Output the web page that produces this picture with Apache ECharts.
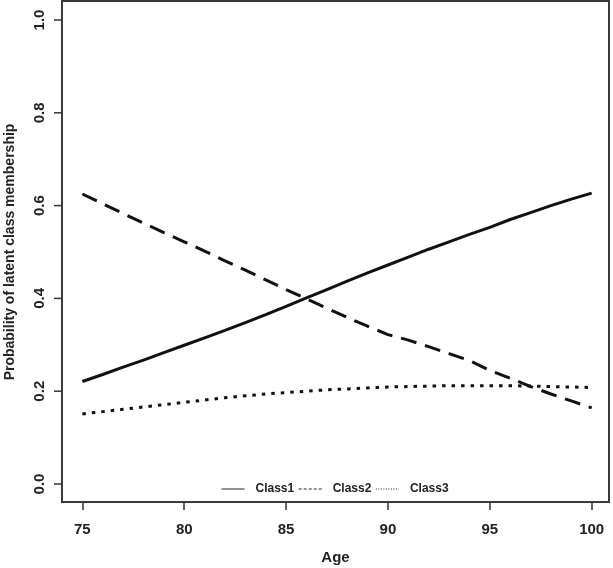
<!DOCTYPE html>
<html>
<head>
<meta charset="utf-8">
<script src="https://cdn.jsdelivr.net/npm/echarts@6/dist/echarts.min.js"></script>
<style>html,body{margin:0;padding:0;background:#fff}#c{width:613px;height:568px}</style>
</head>
<body>
<div id="c"></div>
<script>
const ages = [75,76,77,78,79,80,81,82,83,84,85,86,87,88,89,90,91,92,93,94,95,96,97,98,99,100];
const class1 = [0.221,0.236,0.252,0.267,0.283,0.299,0.315,0.331,0.348,0.365,0.383,0.401,0.419,0.437,0.455,0.472,0.489,0.506,0.522,0.538,0.553,0.570,0.585,0.600,0.614,0.627];
const class2 = [0.625,0.604,0.583,0.562,0.542,0.522,0.502,0.481,0.461,0.440,0.419,0.399,0.379,0.359,0.340,0.322,0.310,0.296,0.281,0.266,0.245,0.228,0.210,0.194,0.179,0.164];
const class3 = [0.151,0.156,0.161,0.166,0.171,0.176,0.181,0.186,0.190,0.194,0.197,0.200,0.203,0.205,0.207,0.209,0.210,0.211,0.212,0.212,0.212,0.212,0.211,0.210,0.209,0.208];
const xTicks = [75,80,85,90,95,100];
const yTicks = [0,0.2,0.4,0.6,0.8,1.0];
const xMin = 74, xMax = 100.85;
const yMin = 0, yMax = 1, yStep = 0.2;
const seriesNames = ['Class1','Class2','Class3'];

const pair = arr => ages.map((a,i)=>[a,arr[i]]);
const font = 'Liberation Sans, Arial, sans-serif';
const chart = echarts.init(document.getElementById('c'), null, {renderer:'canvas'});
chart.setOption({
  animation:false,
  backgroundColor:'#fff',
  grid:[
    {left:62,right:4,top:20,bottom:84,containLabel:false,outerBoundsMode:'none',show:false},
    {left:62,right:4,top:1,bottom:66,containLabel:false,outerBoundsMode:'none',show:true,borderColor:'#3a3a3a',borderWidth:2,backgroundColor:'transparent'}
  ],
  xAxis:[
    {gridIndex:0,type:'value',min:xMin,max:xMax,show:false},
    {gridIndex:1,type:'value',min:xMin,max:xMax,
      name:'Age',nameLocation:'middle',nameGap:48,
      nameTextStyle:{fontFamily:font,fontSize:15,fontWeight:'bold',color:'#222'},
      axisLine:{show:true,onZero:false,lineStyle:{color:'#3a3a3a',width:2}},
      axisTick:{show:true,inside:false,length:8,customValues:xTicks.slice(),lineStyle:{color:'#333',width:1.5}},
      axisLabel:{customValues:xTicks.slice(),margin:20,fontFamily:font,fontSize:15,fontWeight:'bold',color:'#222'},
      splitLine:{show:false}}
  ],
  yAxis:[
    {gridIndex:0,type:'value',min:yMin,max:yMax,interval:yStep,position:'left',
      name:'Probability of latent class membership',nameLocation:'middle',nameGap:45,
      nameTextStyle:{fontFamily:font,fontSize:14,fontWeight:'bold',color:'#222'},
      axisLine:{show:false,onZero:false},
      axisTick:{show:false},
      axisLabel:{rotate:90,margin:15,formatter:v=>Number(v).toFixed(1),fontFamily:font,fontSize:15,fontWeight:'bold',color:'#222'},
      splitLine:{show:false}},
    {gridIndex:1,type:'value',min:-0.04,max:1.04,show:false}
  ],
  legend:{left:216,top:478,itemWidth:23,itemHeight:14,itemGap:4,
    itemStyle:{opacity:0},
    textStyle:{fontFamily:font,fontSize:12,fontWeight:'bold',color:'#222',padding:[0,0,0,6]},
    data:[
      {name:'Class1',lineStyle:{width:1,type:'solid',color:'#222'}},
      {name:'Class2',lineStyle:{width:1,type:[3,2],color:'#222'}},
      {name:'Class3',lineStyle:{width:1,type:[1,1.5],color:'#222'}}
    ]},
  series:[
    {name:seriesNames[0],type:'line',xAxisIndex:0,yAxisIndex:0,data:pair(class1),symbol:'none',clip:false,lineStyle:{color:'#111',width:3,type:'solid'},itemStyle:{color:'#111'}},
    {name:seriesNames[1],type:'line',xAxisIndex:0,yAxisIndex:0,data:pair(class2),symbol:'none',clip:false,lineStyle:{color:'#111',width:3,type:[16,9]},itemStyle:{color:'#111'}},
    {name:seriesNames[2],type:'line',xAxisIndex:0,yAxisIndex:0,data:pair(class3),symbol:'none',clip:false,lineStyle:{color:'#111',width:3,type:[3.5,6]},itemStyle:{color:'#111'}},
    {name:'yTickMarks',type:'custom',xAxisIndex:0,yAxisIndex:0,silent:true,clip:false,
      data:yTicks.map(v=>[xMin,v]),
      renderItem:(params,api)=>{
        const p = api.coord([api.value(0), api.value(1)]);
        return {type:'line',shape:{x1:p[0]-8,y1:p[1],x2:p[0],y2:p[1]},style:{stroke:'#333',lineWidth:1.5}};
      }}
  ]
});
</script>
</body>
</html>
